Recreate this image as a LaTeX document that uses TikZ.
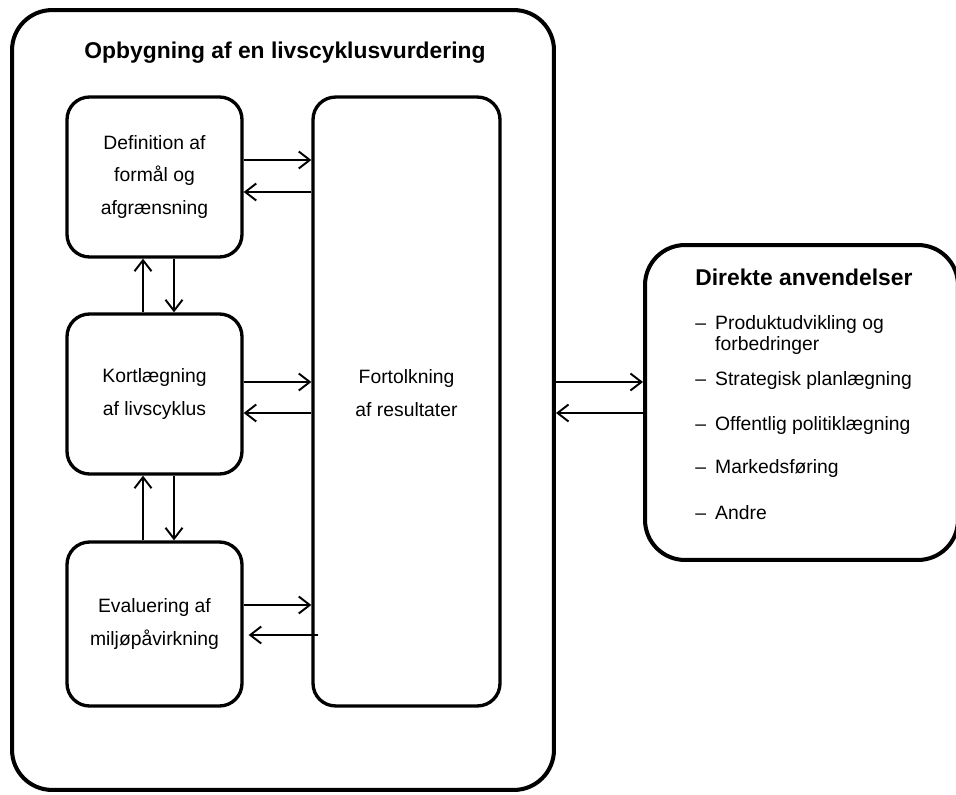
\documentclass[tikz,border=0pt]{standalone}
\usepackage{fontspec}
\setmainfont{Liberation Sans}
\usetikzlibrary{arrows.meta, calc}

\begin{document}
\begin{tikzpicture}[x=0.02cm, y=-0.02cm,
    boks/.style={draw, line width=1.9pt, rounded corners=0.45cm, inner sep=0pt,
                 align=center, font=\fontsize{11}{18.7}\selectfont},
    ramme/.style={draw, line width=2.3pt, rounded corners=0.8cm, inner sep=0pt},
    pil/.style={-{Straight Barb[length=2.2mm, width=3.4mm]}, line width=1.1pt},
    punkt/.style={anchor=west, inner sep=0pt, align=left,
                  font=\fontsize{11}{11.5}\selectfont}]
  \useasboundingbox (0,0) rectangle (956,794);
  % Outer frame with title
  \node[ramme, minimum width=10.84cm, minimum height=15.6cm] (ramme) at (283,400) {};
  \node[font=\fontsize{13}{15}\selectfont\bfseries] (titel) at (285,53)
       {Opbygning af en livscyklusvurdering};
  % The three phases
  \node[boks, minimum width=3.5cm, minimum height=3.2cm] (def) at (154.5,177)
       {Definition af\\formål og\\afgrænsning};
  \node[boks, minimum width=3.5cm, minimum height=3.2cm] (kort) at (154.5,394)
       {Kortlægning\\af livscyklus};
  \node[boks, minimum width=3.5cm, minimum height=3.28cm] (eval) at (154.5,624)
       {Evaluering af\\miljøpåvirkning};
  % Interpretation
  \node[boks, minimum width=3.74cm, minimum height=12.18cm] (fort) at (406.5,401.5) {};
  \node[align=center, font=\fontsize{11}{18.7}\selectfont] (forttekst) at (406.5,393)
       {Fortolkning\\af resultater};
  % Arrows to and from the interpretation
  \draw[pil] (def.east |- 0,160) -- (fort.west |- 0,160);
  \draw[pil] (fort.west |- 0,192) -- (def.east |- 0,192);
  \draw[pil] (kort.east |- 0,382) -- (fort.west |- 0,382);
  \draw[pil] (fort.west |- 0,413) -- (kort.east |- 0,413);
  \draw[pil] (eval.east |- 0,605) -- (fort.west |- 0,605);
  \draw[pil] ($(fort.west |- 0,635)+(7,0)$) -- ($(eval.east |- 0,635)+(5,0)$);
  % Arrows between the phases
  \draw[pil] (kort.north -| 143,0) -- (def.south -| 143,0);
  \draw[pil] (def.south -| 174,0) -- (kort.north -| 174,0);
  \draw[pil] (eval.north -| 143,0) -- (kort.south -| 143,0);
  \draw[pil] (kort.south -| 174,0) -- (eval.north -| 174,0);
  % Applications
  \node[ramme, minimum width=6.26cm, minimum height=6.3cm] (anv) at (801.5,402.5) {};
  \node[anchor=west, inner sep=0pt, font=\fontsize{13}{15}\selectfont\bfseries]
       (anvtitel) at (695,277) {Direkte anvendelser};
  \node[punkt] (p1) at (695,335)
       {\makebox[11.3pt][l]{–}Produktudvikling og\\\hspace*{11.3pt}forbedringer};
  \node[punkt] (p2) at (695,380) {\makebox[11.3pt][l]{–}Strategisk planlægning};
  \node[punkt] (p3) at (695,425) {\makebox[11.3pt][l]{–}Offentlig politiklægning};
  \node[punkt] (p4) at (695,468) {\makebox[11.3pt][l]{–}Markedsføring};
  \node[punkt] (p5) at (695,513) {\makebox[11.3pt][l]{–}Andre};
  \draw[pil] (ramme.east |- 0,382) -- (anv.west |- 0,382);
  \draw[pil] (anv.west |- 0,413) -- (ramme.east |- 0,413);
\end{tikzpicture}
\end{document}
